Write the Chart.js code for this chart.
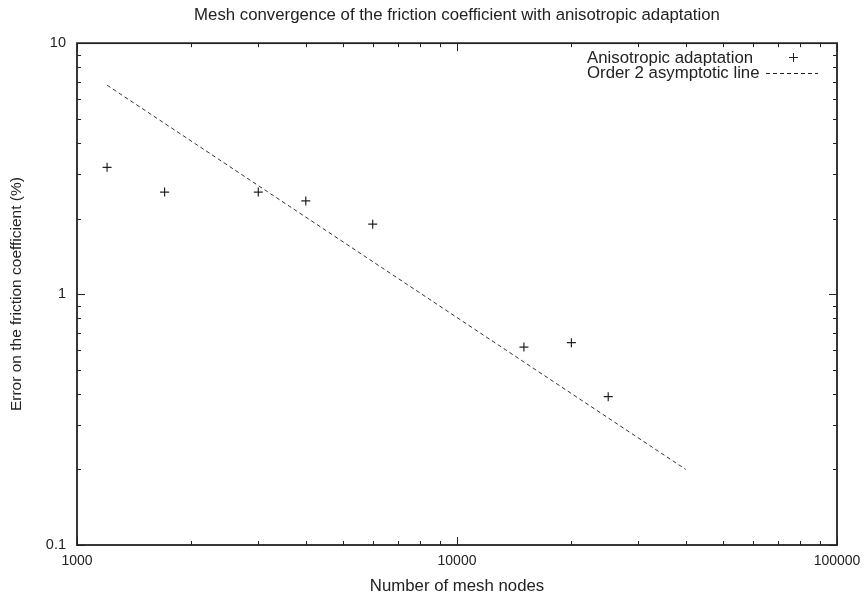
<!DOCTYPE html>
<html>
<head>
<meta charset="utf-8">
<script src="https://cdn.jsdelivr.net/npm/chart.js@4.4.0/dist/chart.umd.min.js"></script>
<style>
  html, body { margin: 0; padding: 0; background: #fff; }
  #wrap { width: 865px; height: 597px; }
</style>
</head>
<body>
<div id="wrap"><canvas id="chart"></canvas></div>
<script>
// nombre de noeuds du maillage / erreur sur le coefficient (%)
const nodes = [1200, 1700, 3000, 4000, 6000, 15000, 20000, 25000];
const errors = [3.2, 2.55, 2.55, 2.35, 1.9, 0.615, 0.64, 0.39];

// droite asymptotique d'ordre 2 (deux extrémités)
const lineNodes = [1200, 40000];
const lineErrors = [6.8, 0.2];

const xTicks = [1000, 10000, 100000];
const yTicks = [0.1, 1, 10];

const seriesLabels = ['Anisotropic adaptation', 'Order 2 asymptotic line'];

const ink = '#222';
const fontFamily = '"Liberation Sans", Arial, Helvetica, sans-serif';

// petits traits de graduation vers l'intérieur, sur les quatre côtés
const frameTicks = {
  id: 'frameTicks',
  afterDatasetsDraw(chart) {
    const { ctx, chartArea: a, scales } = chart;
    ctx.save();
    ctx.strokeStyle = ink;
    ctx.lineWidth = 1;
    ctx.beginPath();
    for (let e = 3; e <= 5; e++) {
      for (let k = 1; k <= 9; k++) {
        const v = k * Math.pow(10, e);
        if (v > 100000) break;
        const px = Math.round(scales.x.getPixelForValue(v)) + 0.5;
        const len = k === 1 ? 8 : 4;
        ctx.moveTo(px, a.bottom); ctx.lineTo(px, a.bottom - len);
        ctx.moveTo(px, a.top); ctx.lineTo(px, a.top + len);
      }
    }
    for (let e = -1; e <= 1; e++) {
      for (let k = 1; k <= 9; k++) {
        const v = k * Math.pow(10, e);
        if (v > 10.001) break;
        const py = Math.round(scales.y.getPixelForValue(v)) + 0.5;
        const len = k === 1 ? 8 : 4;
        ctx.moveTo(a.left, py); ctx.lineTo(a.left + len, py);
        ctx.moveTo(a.right, py); ctx.lineTo(a.right - len, py);
      }
    }
    ctx.stroke();
    ctx.lineWidth = 1.8;
    ctx.strokeRect(a.left, a.top, a.right - a.left, a.bottom - a.top);
    ctx.restore();
  }
};

// légende à la gnuplot, en haut à droite
const keyBox = {
  id: 'keyBox',
  afterDraw(chart) {
    const { ctx } = chart;
    const ds = chart.data.datasets;
    ctx.save();
    ctx.font = '16.8px ' + fontFamily;
    ctx.fillStyle = ink;
    ctx.textBaseline = 'middle';
    ctx.textAlign = 'left';
    ctx.fillText(ds[0].label, 587, 58);
    ctx.fillText(ds[1].label, 587, 73);
    ctx.strokeStyle = ink;
    ctx.lineWidth = 1;
    ctx.beginPath();
    ctx.moveTo(789, 57.5); ctx.lineTo(798, 57.5);
    ctx.moveTo(793.5, 53); ctx.lineTo(793.5, 62);
    ctx.stroke();
    ctx.setLineDash([4, 3]);
    ctx.beginPath();
    ctx.moveTo(766, 73.5); ctx.lineTo(818, 73.5);
    ctx.stroke();
    ctx.restore();
  }
};

new Chart(document.getElementById('chart'), {
  type: 'scatter',
  data: {
    datasets: [
      {
        label: seriesLabels[0],
        data: nodes.map((n, i) => ({ x: n, y: errors[i] })),
        pointStyle: 'cross',
        pointRadius: 4.5,
        borderColor: ink,
        borderWidth: 1.2,
        showLine: false
      },
      {
        label: seriesLabels[1],
        data: lineNodes.map((n, i) => ({ x: n, y: lineErrors[i] })),
        showLine: true,
        pointRadius: 0,
        borderColor: '#333',
        borderWidth: 1,
        borderDash: [4, 3],
        fill: false
      }
    ]
  },
  options: {
    responsive: true,
    maintainAspectRatio: false,
    animation: false,
    layout: { padding: { left: 0, right: 28, top: 0, bottom: 0 } },
    plugins: {
      legend: { display: false },
      tooltip: { enabled: false },
      title: {
        display: true,
        text: 'Mesh convergence of the friction coefficient with anisotropic adaptation',
        fullSize: false,
        color: ink,
        font: { family: fontFamily, size: 16.8, weight: 'normal' },
        padding: { top: 5, bottom: 18 }
      }
    },
    scales: {
      x: {
        type: 'logarithmic',
        min: 1000,
        max: 100000,
        afterBuildTicks: s => { s.ticks = xTicks.map(v => ({ value: v })); },
        afterFit: s => { s.height = 52; },
        grid: { display: false, drawTicks: false },
        border: { display: false },
        ticks: {
          color: ink,
          padding: 4,
          maxRotation: 0,
          font: { family: fontFamily, size: 14, lineHeight: 1.7 },
          callback: v => String(v)
        },
        title: {
          display: true,
          text: 'Number of mesh nodes',
          color: ink,
          font: { family: fontFamily, size: 16.8 },
          padding: { top: 0, bottom: 1 }
        }
      },
      y: {
        type: 'logarithmic',
        min: 0.1,
        max: 10,
        afterBuildTicks: s => { s.ticks = yTicks.map(v => ({ value: v })); },
        afterFit: s => { s.width = 77; },
        grid: { display: false, drawTicks: false },
        border: { display: false },
        ticks: {
          color: ink,
          padding: 11,
          font: { family: fontFamily, size: 14.5 },
          callback: v => String(v)
        },
        title: {
          display: true,
          text: 'Error on the friction coefficient (%)',
          color: ink,
          font: { family: fontFamily, size: 15.5 },
          padding: { top: 7, bottom: 0 }
        }
      }
    }
  },
  plugins: [frameTicks, keyBox]
});
</script>
</body>
</html>
